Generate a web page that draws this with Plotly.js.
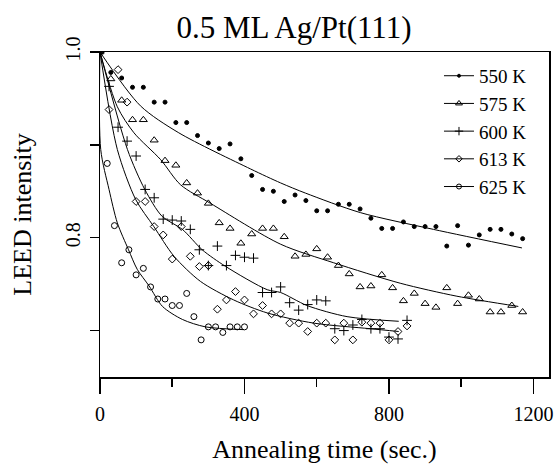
<!DOCTYPE html>
<html>
<head>
<meta charset="utf-8">
<script src="https://cdn.plot.ly/plotly-3.0.1.min.js"></script>
<style>html,body{margin:0;padding:0;background:#fff}#chart{width:560px;height:472px}</style>
</head>
<body>
<div id="chart"></div>
<script>
// ---- data ----
const seriesNames = ['550 K', '575 K', '600 K', '613 K', '625 K'];

const t550 = [0,30,60,90,120,150,180,210,240,270,300,330,360,390,420,450,480,510,540,570,600,630,660,690,720,750,780,810,840,870,900,930,960,990,1020,1050,1080,1110,1140,1170];
const i550 = [1.0,0.978,0.972,0.962,0.962,0.946,0.946,0.924,0.924,0.910,0.902,0.896,0.901,0.885,0.867,0.852,0.850,0.839,0.846,0.840,0.829,0.829,0.836,0.836,0.831,0.821,0.810,0.810,0.817,0.812,0.812,0.812,0.791,0.813,0.792,0.803,0.809,0.809,0.804,0.799];

const t575 = [0,30,60,90,120,150,180,210,240,270,300,330,360,390,420,450,480,510,540,570,600,630,660,690,720,750,780,810,840,870,900,930,960,990,1020,1050,1080,1110,1140,1170];
const i575 = [1.0,0.971,0.948,0.927,0.927,0.905,0.883,0.878,0.859,0.848,0.837,0.816,0.810,0.794,0.804,0.810,0.810,0.801,0.780,0.782,0.788,0.779,0.770,0.761,0.747,0.748,0.760,0.746,0.732,0.740,0.729,0.725,0.746,0.729,0.738,0.734,0.720,0.720,0.727,0.720];

const t600 = [0,25,50,75,100,125,150,175,200,225,250,275,300,325,350,375,400,425,450,475,500,525,550,575,600,625,650,675,700,725,750,775,800,825,850];
const i600 = [1.0,0.963,0.919,0.904,0.888,0.852,0.843,0.820,0.819,0.818,0.809,0.787,0.770,0.791,0.770,0.781,0.779,0.778,0.741,0.741,0.747,0.730,0.722,0.728,0.733,0.732,0.702,0.700,0.706,0.712,0.702,0.702,0.693,0.691,0.711];

const t613 = [0,25,50,75,100,125,150,175,200,225,250,275,300,325,350,375,400,425,450,475,500,525,550,575,600,625,650,675,700,725,750,775,800,825,850];
const i613 = [1.0,0.938,0.981,0.946,0.839,0.839,0.812,0.803,0.777,0.812,0.780,0.769,0.770,0.723,0.733,0.742,0.733,0.718,0.727,0.718,0.718,0.708,0.708,0.699,0.708,0.708,0.690,0.708,0.690,0.709,0.708,0.708,0.690,0.699,0.705];

const t625 = [0,20,40,60,80,100,120,140,160,180,200,220,240,260,280,300,320,340,360,380,400];
const i625 = [1.0,0.880,0.813,0.773,0.787,0.760,0.767,0.747,0.734,0.734,0.727,0.727,0.740,0.715,0.690,0.704,0.704,0.698,0.704,0.704,0.704];

// fitted curves
const f550t = [0,112,218,417,500,569,721,923,1168];
const f550i = [1.0,0.942,0.913,0.874,0.859,0.848,0.827,0.809,0.789];
const f575t = [0,48,94,168,223,306,500,647,831,988,1158];
const f575i = [1.0,0.941,0.913,0.884,0.857,0.837,0.793,0.773,0.751,0.737,0.726];
const f600t = [0,76,124,172,228,283,348,463,500,573,684,827];
const f600i = [1.0,0.895,0.852,0.823,0.809,0.787,0.769,0.744,0.741,0.727,0.715,0.710];
const f613t = [0,48,99,149,205,278,370,463,592,748,827];
const f613i = [1.0,0.895,0.841,0.812,0.780,0.753,0.733,0.719,0.708,0.702,0.699];
const f625t = [0,2,25,48,79,103,136,173,228,292,398];
const f625i = [1.0,0.895,0.852,0.816,0.787,0.766,0.748,0.726,0.712,0.704,0.701];

const xTicks = [0, 400, 800, 1200];
const yTickVals = [0.8, 1.0];
const yTickText = ['0.8', '1.0'];

// ---- styling ----
const FONT = "'Liberation Serif', 'Times New Roman', serif";
const symbols = ['circle', 'triangle-up-open', 'cross-thin-open', 'diamond-open', 'circle-open'];
const sizes = [4, 7, 7, 6, 6];
const pts = [[t550,i550],[t575,i575],[t600,i600],[t613,i613],[t625,i625]];
const fits = [[f550t,f550i],[f575t,f575i],[f600t,f600i],[f613t,f613i],[f625t,f625i]];

const traces = [];
pts.forEach((p, k) => {
  traces.push({x: p[0], y: p[1], type: 'scatter', mode: 'markers', showlegend: false,
    marker: {symbol: symbols[k], size: sizes[k], color: '#000', line: {color: '#000', width: 1}}});
});
fits.forEach((f, k) => {
  traces.push({x: f[0], y: f[1], type: 'scatter', mode: 'lines', showlegend: false,
    line: {color: '#000', width: 1, shape: 'spline', smoothing: 0.8}});
});
seriesNames.forEach((n, k) => {
  traces.push({x: [null], y: [null], type: 'scatter', mode: 'lines+markers', name: n,
    line: {color: '#000', width: 1},
    marker: {symbol: symbols[k], size: sizes[k] - 1, color: '#000', line: {color: '#000', width: 1}}});
});

const layout = {
  width: 560, height: 472,
  margin: {l: 100, r: 11, t: 52, b: 95},
  paper_bgcolor: '#fff', plot_bgcolor: '#fff',
  font: {family: FONT, color: '#000'},
  title: {text: '0.5 ML Ag/Pt(111)', font: {family: FONT, size: 31, color: '#000'},
          xref: 'container', x: 0.525, xanchor: 'center', yref: 'container', y: 0.943, yanchor: 'middle'},
  xaxis: {
    range: [0, 1243], tickvals: xTicks, ticks: 'outside', ticklen: 15, tickwidth: 1.5, tickcolor: '#000',
    minor: {dtick: 200, tick0: 0, ticks: 'outside', ticklen: 8, tickwidth: 1.5, tickcolor: '#000'},
    showgrid: false, zeroline: false, showline: true, mirror: true, linecolor: '#000', linewidth: 1.5,
    tickfont: {family: FONT, size: 20, color: '#000'}, ticklabelstandoff: 3,
    title: {text: 'Annealing time (sec.)', font: {family: FONT, size: 26, color: '#000'}, standoff: 16}
  },
  yaxis: {
    range: [0.65, 1.0], tickvals: yTickVals, ticktext: yTickText, tickangle: -90,
    ticks: 'outside', ticklen: 9, tickwidth: 1.5, tickcolor: '#000',
    minor: {dtick: 0.1, tick0: 0, ticks: 'outside', ticklen: 9, tickwidth: 1.5, tickcolor: '#000'},
    showgrid: false, zeroline: false, showline: true, mirror: true, linecolor: '#000', linewidth: 1.5,
    tickfont: {family: FONT, size: 20, color: '#000'}, ticklabelstandoff: 2,
    title: {text: 'LEED intensity', font: {family: FONT, size: 26, color: '#000'}, standoff: 22}
  },
  legend: {x: 0.755, xanchor: 'left', y: 0.985, yanchor: 'top', bgcolor: 'rgba(0,0,0,0)',
           borderwidth: 0, font: {family: FONT, size: 19, color: '#000'}, itemwidth: 30, tracegroupgap: 0},
  showlegend: true
};

Plotly.newPlot('chart', traces, layout, {displayModeBar: false, staticPlot: true});
</script>
</body>
</html>
